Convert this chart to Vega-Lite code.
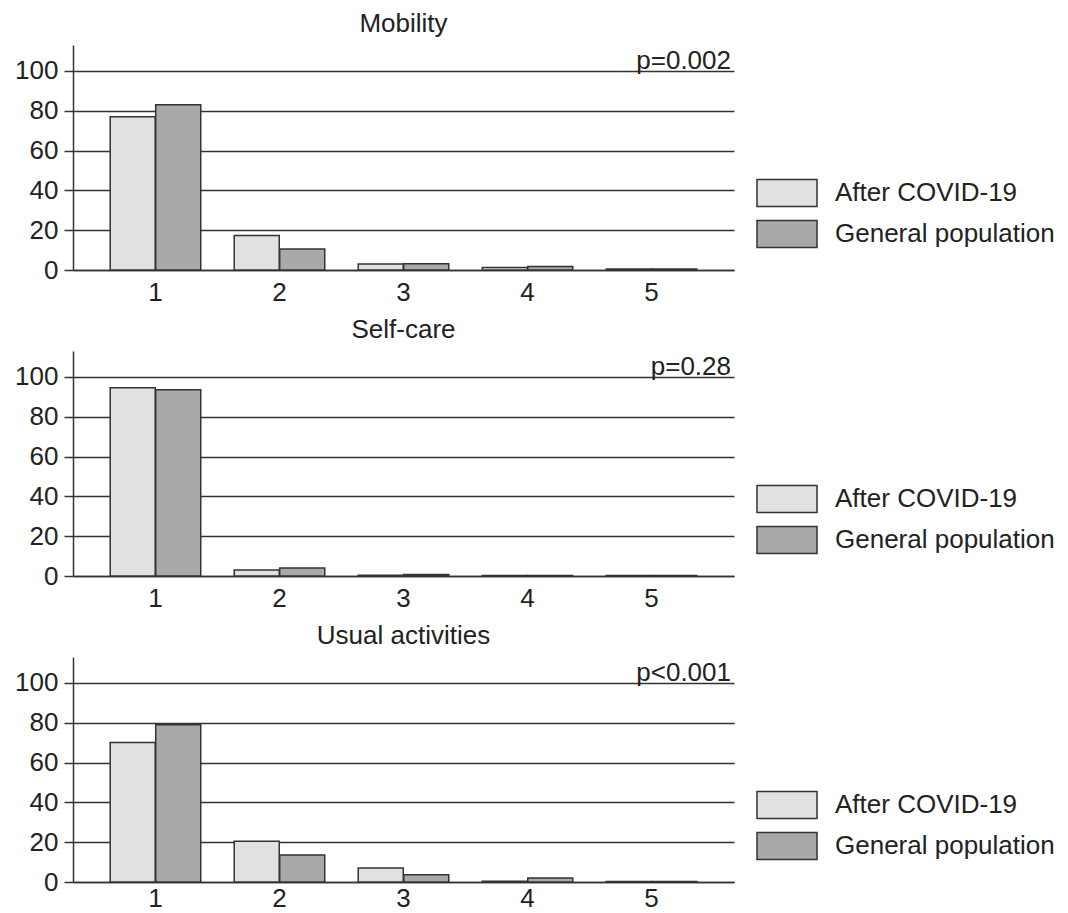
{
  "$schema": "https://vega.github.io/schema/vega-lite/v6.json",
  "padding": {"left": 14, "top": 11, "right": 5, "bottom": 0},
  "background": "white",
  "datasets": {
    "bars": [
      {"panel": "Mobility", "level": "1", "group": "After COVID-19", "value": 77},
      {"panel": "Mobility", "level": "1", "group": "General population", "value": 83},
      {"panel": "Mobility", "level": "2", "group": "After COVID-19", "value": 17.3},
      {"panel": "Mobility", "level": "2", "group": "General population", "value": 10.5},
      {"panel": "Mobility", "level": "3", "group": "After COVID-19", "value": 3},
      {"panel": "Mobility", "level": "3", "group": "General population", "value": 3.2},
      {"panel": "Mobility", "level": "4", "group": "After COVID-19", "value": 1.2},
      {"panel": "Mobility", "level": "4", "group": "General population", "value": 1.8},
      {"panel": "Mobility", "level": "5", "group": "After COVID-19", "value": 0.5},
      {"panel": "Mobility", "level": "5", "group": "General population", "value": 0.5},
      {"panel": "Self-care", "level": "1", "group": "After COVID-19", "value": 94.5},
      {"panel": "Self-care", "level": "1", "group": "General population", "value": 93.5},
      {"panel": "Self-care", "level": "2", "group": "After COVID-19", "value": 3},
      {"panel": "Self-care", "level": "2", "group": "General population", "value": 4},
      {"panel": "Self-care", "level": "3", "group": "After COVID-19", "value": 0.4},
      {"panel": "Self-care", "level": "3", "group": "General population", "value": 0.7},
      {"panel": "Self-care", "level": "4", "group": "After COVID-19", "value": 0.3},
      {"panel": "Self-care", "level": "4", "group": "General population", "value": 0.3},
      {"panel": "Self-care", "level": "5", "group": "After COVID-19", "value": 0.3},
      {"panel": "Self-care", "level": "5", "group": "General population", "value": 0.3},
      {"panel": "Usual activities", "level": "1", "group": "After COVID-19", "value": 70},
      {"panel": "Usual activities", "level": "1", "group": "General population", "value": 79},
      {"panel": "Usual activities", "level": "2", "group": "After COVID-19", "value": 20.5},
      {"panel": "Usual activities", "level": "2", "group": "General population", "value": 13.5},
      {"panel": "Usual activities", "level": "3", "group": "After COVID-19", "value": 7},
      {"panel": "Usual activities", "level": "3", "group": "General population", "value": 3.7},
      {"panel": "Usual activities", "level": "4", "group": "After COVID-19", "value": 0.4},
      {"panel": "Usual activities", "level": "4", "group": "General population", "value": 2},
      {"panel": "Usual activities", "level": "5", "group": "After COVID-19", "value": 0.3},
      {"panel": "Usual activities", "level": "5", "group": "General population", "value": 0.3}
    ],
    "pvals": [
      {"panel": "Mobility", "p": "p=0.002"},
      {"panel": "Self-care", "p": "p=0.28"},
      {"panel": "Usual activities", "p": "p<0.001"}
    ]
  },
  "config": {
    "font": "Liberation Sans",
    "view": {"stroke": null},
    "title": {"fontSize": 26, "fontWeight": "normal", "color": "#222", "offset": 8},
    "axis": {"labelFontSize": 26, "labelColor": "#222", "domainColor": "#333", "domainWidth": 1.5, "tickColor": "#333", "tickWidth": 1.5, "gridColor": "#333", "gridWidth": 1.3, "gridOpacity": 1},
    "legend": {"labelFontSize": 26, "labelColor": "#222", "labelLimit": 0},
    "concat": {"spacing": 12}
  },
  "resolve": {"legend": {"color": "independent"}},
  "vconcat": [
    {
      "title": "Mobility",
      "width": 661, "height": 225,
      "layer": [
        {
          "data": {"name": "bars"},
          "transform": [{"filter": "datum.panel === 'Mobility'"}],
          "mark": {"type": "bar", "stroke": "#333", "strokeWidth": 1.5},
          "encoding": {
            "x": {"field": "level", "type": "nominal", "scale": {"paddingInner": 0.27, "paddingOuter": 0.3}, "axis": {"title": null, "labelAngle": 0, "ticks": false, "grid": false, "labelPadding": 9}},
            "xOffset": {"field": "group", "type": "nominal", "scale": {"paddingInner": 0.01}},
            "y": {"field": "value", "type": "quantitative", "scale": {"domain": [0, 113], "nice": false}, "axis": {"title": null, "values": [0, 20, 40, 60, 80, 100], "grid": true, "tickSize": 9, "labelPadding": 6}},
            "color": {"field": "group", "type": "nominal", "scale": {"domain": ["After COVID-19", "General population"], "range": ["#e1e1e3", "#a9a9ab"]}, "legend": {"title": null, "orient": "none", "legendX": 698, "legendY": 132, "symbolType": "M-2,-0.9L2,-0.9L2,0.9L-2,0.9Z", "symbolSize": 900, "symbolStrokeColor": "#333", "symbolStrokeWidth": 1.5, "labelOffset": 32, "rowPadding": 7}}
          }
        },
        {
          "data": {"name": "pvals"},
          "transform": [{"filter": "datum.panel === 'Mobility'"}],
          "mark": {"type": "text", "x": "width", "align": "right", "baseline": "alphabetic", "dx": -3, "dy": -2, "fontSize": 26, "color": "#222"},
          "encoding": {"y": {"datum": 100, "type": "quantitative"}, "text": {"field": "p"}}
        }
      ]
    },
    {
      "title": "Self-care",
      "width": 661, "height": 225,
      "layer": [
        {
          "data": {"name": "bars"},
          "transform": [{"filter": "datum.panel === 'Self-care'"}],
          "mark": {"type": "bar", "stroke": "#333", "strokeWidth": 1.5},
          "encoding": {
            "x": {"field": "level", "type": "nominal", "scale": {"paddingInner": 0.27, "paddingOuter": 0.3}, "axis": {"title": null, "labelAngle": 0, "ticks": false, "grid": false, "labelPadding": 9}},
            "xOffset": {"field": "group", "type": "nominal", "scale": {"paddingInner": 0.01}},
            "y": {"field": "value", "type": "quantitative", "scale": {"domain": [0, 113], "nice": false}, "axis": {"title": null, "values": [0, 20, 40, 60, 80, 100], "grid": true, "tickSize": 9, "labelPadding": 6}},
            "color": {"field": "group", "type": "nominal", "scale": {"domain": ["After COVID-19", "General population"], "range": ["#e1e1e3", "#a9a9ab"]}, "legend": {"title": null, "orient": "none", "legendX": 698, "legendY": 132, "symbolType": "M-2,-0.9L2,-0.9L2,0.9L-2,0.9Z", "symbolSize": 900, "symbolStrokeColor": "#333", "symbolStrokeWidth": 1.5, "labelOffset": 32, "rowPadding": 7}}
          }
        },
        {
          "data": {"name": "pvals"},
          "transform": [{"filter": "datum.panel === 'Self-care'"}],
          "mark": {"type": "text", "x": "width", "align": "right", "baseline": "alphabetic", "dx": -3, "dy": -2, "fontSize": 26, "color": "#222"},
          "encoding": {"y": {"datum": 100, "type": "quantitative"}, "text": {"field": "p"}}
        }
      ]
    },
    {
      "title": "Usual activities",
      "width": 661, "height": 225,
      "layer": [
        {
          "data": {"name": "bars"},
          "transform": [{"filter": "datum.panel === 'Usual activities'"}],
          "mark": {"type": "bar", "stroke": "#333", "strokeWidth": 1.5},
          "encoding": {
            "x": {"field": "level", "type": "nominal", "scale": {"paddingInner": 0.27, "paddingOuter": 0.3}, "axis": {"title": null, "labelAngle": 0, "ticks": false, "grid": false, "labelPadding": 3}},
            "xOffset": {"field": "group", "type": "nominal", "scale": {"paddingInner": 0.01}},
            "y": {"field": "value", "type": "quantitative", "scale": {"domain": [0, 113], "nice": false}, "axis": {"title": null, "values": [0, 20, 40, 60, 80, 100], "grid": true, "tickSize": 9, "labelPadding": 6}},
            "color": {"field": "group", "type": "nominal", "scale": {"domain": ["After COVID-19", "General population"], "range": ["#e1e1e3", "#a9a9ab"]}, "legend": {"title": null, "orient": "none", "legendX": 698, "legendY": 132, "symbolType": "M-2,-0.9L2,-0.9L2,0.9L-2,0.9Z", "symbolSize": 900, "symbolStrokeColor": "#333", "symbolStrokeWidth": 1.5, "labelOffset": 32, "rowPadding": 7}}
          }
        },
        {
          "data": {"name": "pvals"},
          "transform": [{"filter": "datum.panel === 'Usual activities'"}],
          "mark": {"type": "text", "x": "width", "align": "right", "baseline": "alphabetic", "dx": -3, "dy": -2, "fontSize": 26, "color": "#222"},
          "encoding": {"y": {"datum": 100, "type": "quantitative"}, "text": {"field": "p"}}
        }
      ]
    }
  ]
}
